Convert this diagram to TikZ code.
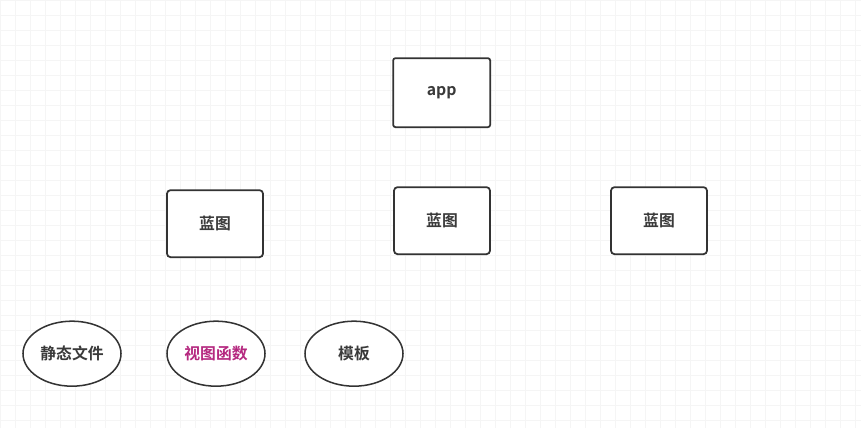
\documentclass[tikz,border=0pt]{standalone}
\usepackage{fontspec}
\setmainfont{Noto Sans CJK SC}[BoldFont={* Bold}]
\usepackage{tikz}
\definecolor{boxline}{HTML}{333333}
\definecolor{boxtext}{HTML}{3A3A3A}
\definecolor{viewtext}{HTML}{B5287F}
\definecolor{gridline}{HTML}{F5F5F5}
\tikzset{app/.style={text=boxtext,draw=boxline,fill=white,rectangle,line width=1.5pt,rounded corners=2pt,minimum width=2.91cm,minimum height=2.07cm,font=\fontsize{13.5}{16}\selectfont\bfseries}}
\tikzset{blueprint/.style={text=boxtext,draw=boxline,fill=white,rectangle,line width=1.5pt,rounded corners=3pt,minimum width=2.88cm,minimum height=2.01cm,font=\fontsize{13.5}{16}\selectfont\bfseries}}
\tikzset{part/.style={text=boxtext,draw=boxline,fill=white,ellipse,line width=1.3pt,minimum width=2.94cm,minimum height=1.95cm,inner sep=0pt,font=\fontsize{13.5}{16}\selectfont\bfseries}}
\usetikzlibrary{shapes.geometric}

\begin{document}
\begin{tikzpicture}
    \useasboundingbox (0,0) rectangle (25.83,-12.84);
    \fill[white] (0,0) rectangle (25.83,-12.84);
    \draw[gridline,line width=0.6pt,step=0.45cm] (0,-12.84) grid (25.83,0);

    \node[app] (app) at (13.25,-2.78) {app};

    \node[blueprint] (bp1) at (6.45,-6.71) {蓝图};
    \node[blueprint] (bp2) at (13.26,-6.62) {蓝图};
    \node[blueprint] (bp3) at (19.77,-6.62) {蓝图};

    \node[part] (static) at (2.16,-10.61) {静态文件};
    \node[part,text=viewtext] (view) at (6.48,-10.61) {视图函数};
    \node[part] (tmpl) at (10.62,-10.61) {模板};
  \end{tikzpicture}
\end{document}
